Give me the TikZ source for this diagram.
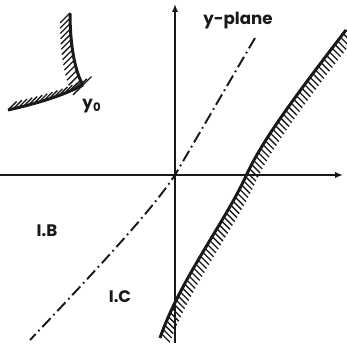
\documentclass[tikz,border=0pt]{standalone}
\usepackage{fontspec}
\setmainfont{Poppins}
\usetikzlibrary{arrows.meta,decorations.markings}
\definecolor{ink}{RGB}{25,25,25}
\tikzset{
  >={Latex[length=4.5pt,width=3.6pt]},
  axis/.style={->,draw=ink,line width=1.1pt},
  bound/.style={draw=ink,line width=1.7pt},
  % short hatch strokes at a fixed angle along a boundary
  hatch/.style 2 args={postaction={decorate,decoration={markings,
    mark=between positions 0 and 1 step #2 with {\pgftransformresetnontranslations
      \draw[ink,line width=0.75pt] (0,0) -- (#1);}}}},
  ridge/.style={draw=ink,line width=1.1pt,dash pattern=on 6.8pt off 2.3pt on 1pt off 2.3pt},
  tag/.style={font=\fontsize{9.5}{11}\selectfont\bfseries,text=ink},
}
\begin{document}
\begin{tikzpicture}[x=0.02cm,y=-0.02cm]
  \useasboundingbox (0,0) rectangle (346,348);
  \coordinate (o) at (175,175);
  \coordinate (west) at (0,175);
  \coordinate (east) at (343,175);
  \coordinate (south) at (175,343);
  \coordinate (north) at (175,4);
  \draw[axis] (west) -- (east);
  \draw[axis] (south) -- (north);
  % dash-dot line through the origin
  \draw[ridge] (255,38) -- (o) .. controls (155,205) and (120,245) .. (30,340);
  % hatched boundaries
  \draw[bound,hatch={-45:0.24cm}{2.6pt}] (346,30) .. controls (300,90) and (262,140) .. (246,176)
    .. controls (225,222) and (180,280) .. (160,338);
  \draw[bound,hatch={225:0.28cm}{3pt}] (70,13) .. controls (70,45) and (75,72) .. (83,85);
  \draw[bound,hatch={45:0.24cm}{3pt}] (83,85) .. controls (62,96) and (35,104) .. (8,110);
  \node[tag] (plane) at (238,21) {y-plane};
  \node[tag] (yzero) at (92,106) {y\textsubscript{0}};
  \node[tag] (regB) at (47,231) {I.B};
  \node[tag] (regC) at (120,297) {I.C};
\end{tikzpicture}
\end{document}
